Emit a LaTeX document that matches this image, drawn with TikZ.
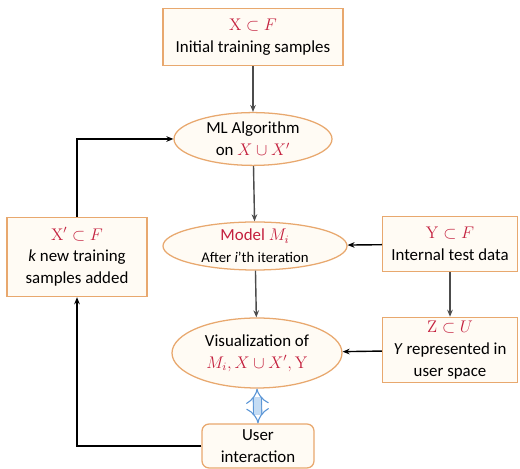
\documentclass[tikz,border=0pt]{standalone}
\usepackage{amsmath,amssymb}
\usepackage[no-math]{fontspec}
\setmainfont{Carlito}
\usepackage{xcolor}
\usetikzlibrary{shapes.geometric,arrows.meta}
\definecolor{tan}{RGB}{232,168,110}
\definecolor{cream}{RGB}{255,251,244}
\definecolor{crimson}{RGB}{196,32,62}
\definecolor{skyfill}{RGB}{196,220,244}
\definecolor{skyline}{RGB}{92,150,214}

\begin{document}
\begin{tikzpicture}[
  box/.style={draw=tan, fill=cream, line width=0.9pt, inner sep=0pt,
              text centered, align=center},
  oval/.style={ellipse, draw=tan, fill=cream, line width=0.9pt, inner sep=0pt,
              text centered, align=center},
  arrow/.style={-{Stealth[length=5pt,width=4pt]}, line width=1pt, black!70},
  loop/.style={-{Stealth[length=5pt,width=4pt]}, line width=1pt, black},
  font=\fontsize{12}{15.5}\selectfont,
]
\useasboundingbox (0,0) rectangle (13,11.7);

% Training set
\node[box, minimum width=4.5cm, minimum height=1.42cm] (init) at (6.325, 10.775)
  {\textcolor{crimson}{$\mathrm{X}\subset F$}\\Initial training samples};

% Learner
\node[oval, minimum width=3.95cm, minimum height=1.32cm] (ml) at (6.325, 8.225)
  {ML Algorithm\\on \textcolor{crimson}{$X\cup X'$}};

% Current model
\node[oval, minimum width=4.6cm, minimum height=1.2cm] (model) at (6.375, 5.55)
  {\textcolor{crimson}{Model $M_i$}\\{\fontsize{10.5}{12}\selectfont After \textit{i}'th iteration}};

% Visualization
\node[oval, minimum width=4.25cm, minimum height=1.75cm] (vis) at (6.425, 2.875)
  {Visualization of\\\textcolor{crimson}{$M_i, X\cup X', \mathrm{Y}$}};

% User
\node[box, rounded corners=5pt, minimum width=2.8cm, minimum height=1.1cm] (user) at (6.45, 0.55)
  {User\\interaction};

% New samples
\node[box, minimum width=3.5cm, minimum height=1.98cm] (added) at (1.925, 5.275)
  {\textcolor{crimson}{$\mathrm{X}'\subset F$}\\\textit{k} new training\\samples added};

% Test data
\node[box, minimum width=3.375cm, minimum height=1.38cm] (test) at (11.25, 5.6)
  {\textcolor{crimson}{$\mathrm{Y}\subset F$}\\Internal test data};

% User space
\node[box, minimum width=3.375cm, minimum height=1.63cm] (space) at (11.25, 2.95)
  {\textcolor{crimson}{$\mathrm{Z}\subset U$}\\\textit{Y} represented in\\user space};

% Arrows
\draw[arrow] (init) -- (ml);
\draw[arrow] (ml) -- (model);
\draw[arrow] (model) -- (vis);
\draw[arrow] (test) -- (space);
\draw[loop] (test) -- (model);
\draw[loop] (space) -- (vis);

\draw[loop] (user.west) -| (added.south);
\draw[loop] (added.north) |- (ml.west);

% Interaction
\draw[double=skyfill, double distance=5pt, line width=0.8pt, skyline,
      {Implies[length=4pt]}-{Implies[length=4pt]}] (vis.south) -- (user.north);

\end{tikzpicture}
\end{document}
